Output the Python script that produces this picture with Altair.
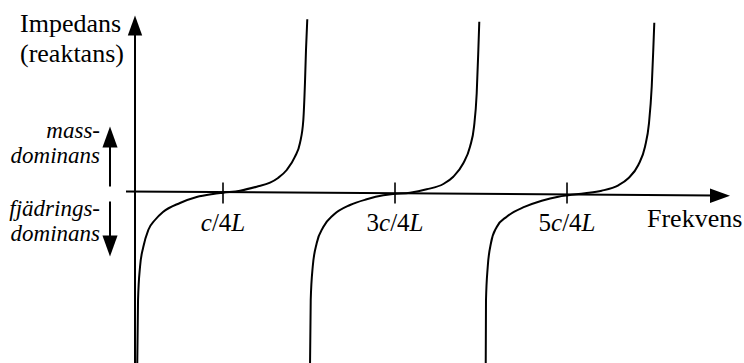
import altair as alt
import pandas as pd

# Frequency in units of c/4L, reactance in arbitrary units.
# Each branch runs from -inf (spring side) up through zero to +inf (mass side).
branch1_f = [0.003, 0.012, 0.035, 0.073, 0.131, 0.209, 0.302, 0.500, 0.694, 0.884,
             1.003, 1.198, 1.392, 1.547, 1.640, 1.741, 1.837, 1.895, 1.934, 1.953,
             1.965, 1.980]
branch1_z = [-17.0, -10.7, -7.4, -5.4, -3.7, -2.7, -1.9, -1.0, -0.4, -0.1,
             0.03, 0.23, 0.63, 1.03, 1.5, 2.3, 3.63, 5.0, 7.3, 11.0,
             14.3, 17.37]

branch2_f = [2.012, 2.020, 2.043, 2.090, 2.166, 2.283, 2.477, 2.671, 2.864, 2.980,
             3.174, 3.369, 3.562, 3.678, 3.794, 3.872, 3.919, 3.950, 3.969, 3.980]
branch2_z = [-17.0, -10.7, -7.4, -5.0, -3.4, -2.2, -1.2, -0.63, -0.23, -0.1,
             0.03, 0.37, 0.9, 1.63, 2.97, 4.63, 6.63, 9.97, 14.3, 17.13]

branch3_f = [4.055, 4.058, 4.078, 4.116, 4.183, 4.299, 4.512, 4.706, 4.899, 5.015,
             5.209, 5.403, 5.597, 5.713, 5.829, 5.907, 5.953, 5.985, 6.003, 6.015]
branch3_z = [-17.0, -10.7, -7.4, -5.0, -3.4, -2.37, -1.37, -0.77, -0.37, -0.23,
             -0.03, 0.23, 0.77, 1.47, 2.8, 4.63, 6.97, 10.63, 14.3, 17.03]

tick_values = [1, 3, 5]
tick_labels = ["c/4L", "3c/4L", "5c/4L"]

W, H = 744, 363
X_DOMAIN = [-1.593, 7.058]
Y_DOMAIN = [-17.0, 19.3]
PX_PER_UNIT = W / (X_DOMAIN[1] - X_DOMAIN[0])
SERIF = "Liberation Serif"
INK = "black"

x_scale = alt.Scale(domain=X_DOMAIN, nice=False, zero=False)
y_scale = alt.Scale(domain=Y_DOMAIN, nice=False, zero=False)


def text_props(italic):
    props = {"font": SERIF, "color": INK, "baseline": "alphabetic"}
    if italic:
        props["fontStyle"] = "italic"
    return props


# ---- curves -------------------------------------------------------------
rows = []
for name, fs, zs in [("b1", branch1_f, branch1_z),
                     ("b2", branch2_f, branch2_z),
                     ("b3", branch3_f, branch3_z)]:
    for i, (f, z) in enumerate(zip(fs, zs)):
        rows.append({"branch": name, "f": f, "z": z, "i": i})
curves_df = pd.DataFrame(rows)

curves = alt.Chart(curves_df).mark_line(
    color=INK, strokeWidth=2, interpolate="monotone", clip=True
).encode(
    x=alt.X("f:Q", scale=x_scale, axis=None),
    y=alt.Y("z:Q", scale=y_scale, axis=None),
    detail="branch:N",
    order="i:Q",
)

# ---- tick marks and mixed-style tick labels ----------------------------
ticks = alt.Chart(pd.DataFrame({"f": tick_values})).mark_rule(
    color=INK, strokeWidth=1.6
).encode(
    x=alt.X("f:Q", scale=x_scale, axis=None),
    y=alt.value(182.5),
    y2=alt.value(203.5),
)

LABEL_SIZE = 25
REGULAR_EM = {"3": 0.5, "5": 0.5, "4": 0.5, "/": 0.278}
ITALIC_EM = {"c": 0.444, "L": 0.556}


def label_runs(label):
    runs = []
    for ch in label:
        italic = ch in ITALIC_EM
        if runs and runs[-1][1] == italic:
            runs[-1][0] += ch
        else:
            runs.append([ch, italic])
    return runs


run_rows = []
for value, label in zip(tick_values, tick_labels):
    runs = label_runs(label)
    widths = [sum((ITALIC_EM if it else REGULAR_EM)[c] for c in txt) * LABEL_SIZE
              for txt, it in runs]
    offset = -sum(widths) / 2
    for (txt, it), w in zip(runs, widths):
        run_rows.append({"f": value + offset / PX_PER_UNIT, "t": txt, "italic": it})
        offset += w
runs_df = pd.DataFrame(run_rows)

label_layers = []
for it in (True, False):
    label_layers.append(
        alt.Chart(runs_df[runs_df["italic"] == it]).mark_text(
            align="left", fontSize=LABEL_SIZE, **text_props(it)
        ).encode(
            x=alt.X("f:Q", scale=x_scale, axis=None),
            y=alt.value(230.5),
            text="t:N",
        )
    )

# ---- axes, arrows and annotations ----------------------------------------
one = pd.DataFrame({"k": [0]})
HEAD = "M0,-1L-0.72,1L0.72,1Z"


def rule(x, y, x2=None, y2=None, width=2):
    enc = {"x": alt.value(x), "y": alt.value(y)}
    if x2 is not None:
        enc["x2"] = alt.value(x2)
    if y2 is not None:
        enc["y2"] = alt.value(y2)
    return alt.Chart(one).mark_rule(color=INK, strokeWidth=width).encode(**enc)


def head(x, y, size, angle=0):
    return alt.Chart(one).mark_point(
        shape=HEAD, filled=True, size=size, angle=angle,
        color=INK, opacity=1, strokeWidth=0,
    ).encode(x=alt.value(x), y=alt.value(y))


def text(t, x, y, size, align="left", italic=False):
    return alt.Chart(pd.DataFrame({"t": [t]})).mark_text(
        align=align, fontSize=size, **text_props(italic)
    ).encode(x=alt.value(x), y=alt.value(y), text="t:N")


decor = [
    # vertical (impedance) axis
    rule(135, 363, y2=30),
    head(135, 25.5, 400),
    # horizontal (frequency) axis
    rule(126, 191.5, x2=714, y2=195.4),
    head(720, 195.8, 400, angle=90),
    # mass / spring direction arrows
    rule(110, 146, y2=186.5),
    head(110, 137, 441),
    rule(110, 201.5, y2=236),
    head(110, 246, 441, angle=180),
    # texts
    text("Impedans", 20, 32, 26),
    text("(reaktans)", 20, 62, 26),
    text("Frekvens", 647, 227, 26),
    text("mass-", 100, 138, 23, align="right", italic=True),
    text("dominans", 100, 163, 23, align="right", italic=True),
    text("fjädrings-", 100, 216, 23, align="right", italic=True),
    text("dominans", 100, 241, 23, align="right", italic=True),
]

chart = alt.layer(
    curves, ticks, *label_layers, *decor
).properties(
    width=W, height=H, padding=0, autosize=alt.AutoSizeParams(type="none"),
    background="white",
).configure_view(stroke=None)

chart.save("out.html", embed_options={"renderer": "svg", "actions": False})
